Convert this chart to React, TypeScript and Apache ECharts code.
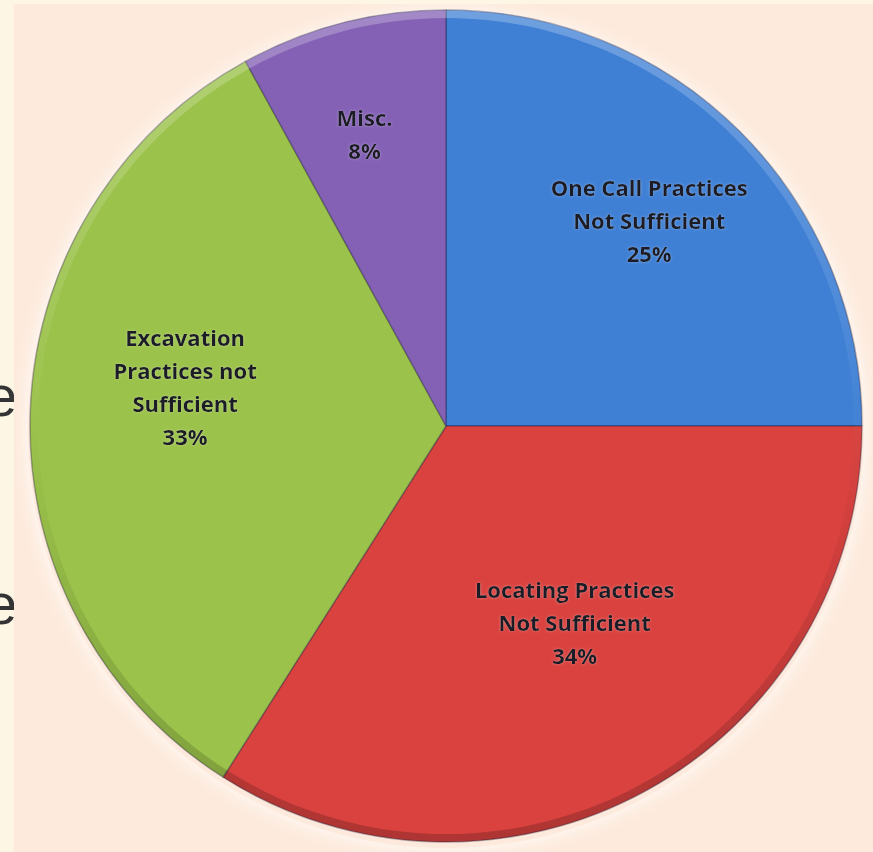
import React, { useEffect, useRef } from "react";
import * as echarts from "echarts";

const categories = [
  "One Call Practices\nNot Sufficient",
  "Locating Practices\nNot Sufficient",
  "Excavation\nPractices not\nSufficient",
  "Misc.",
];
const values = [25, 34, 33, 8];
const sliceColors = ["#3f80d5", "#d9423f", "#9bc24a", "#8461b5"];
const labelOffsets = [
  [54, -57],
  [27, 11],
  [-50, -33],
  [-29, -88],
];

const W = 873;
const H = 852;
const CX = 446;
const CY = 426;
const R = 416;

export default function App() {
  const ref = useRef<HTMLDivElement>(null);
  useEffect(() => {
    if (!ref.current) return;
    const chart = echarts.init(ref.current, null, { renderer: "svg" });
    const data = categories.map((name, i) => ({
      name,
      value: values[i],
      itemStyle: { color: sliceColors[i] },
    }));
    chart.setOption({
      animation: false,
      backgroundColor: "#fef6e4",
      graphic: [
        {
          type: "text",
          z: 0,
          style: {
            text: "e",
            x: 1,
            y: 424,
            font: "58px 'Liberation Sans'",
            fill: "#333333",
            textAlign: "center",
            textVerticalAlign: "bottom",
          },
        },
        {
          type: "text",
          z: 0,
          style: {
            text: "e",
            x: 1,
            y: 632,
            font: "58px 'Liberation Sans'",
            fill: "#333333",
            textAlign: "center",
            textVerticalAlign: "bottom",
          },
        },
        {
          type: "rect",
          z: 1,
          shape: { x: 14, y: 4, width: W - 14, height: H - 4 },
          style: { fill: "#fdeadc" },
        },
        {
          type: "circle",
          z: 2,
          shape: { cx: CX, cy: CY + 4, r: R + 2 },
          style: {
            fill: "#fdeadc",
            shadowBlur: 18,
            shadowColor: "rgba(255,255,255,0.9)",
          },
        },
        {
          type: "ring",
          z: 100,
          silent: true,
          shape: { cx: CX, cy: CY, r: R, r0: R - 8 },
          style: {
            fill: new echarts.graphic.LinearGradient(
              0,
              0,
              0,
              1,
              [
                { offset: 0, color: "rgba(255,255,255,0.25)" },
                { offset: 0.45, color: "rgba(255,255,255,0.04)" },
                { offset: 0.6, color: "rgba(0,0,0,0.03)" },
                { offset: 1, color: "rgba(0,0,0,0.2)" },
              ]
            ),
          },
        },
      ],
      series: [
        {
          type: "pie",
          z: 3,
          center: [CX, CY],
          radius: [0, R],
          startAngle: 90,
          clockwise: true,
          avoidLabelOverlap: false,
          itemStyle: {
            borderColor: "rgba(30,30,60,0.35)",
            borderWidth: 1.5,
          },
          label: {
            show: true,
            position: "inside",
            formatter: "{b}\n{d}%",
            color: "#1a1a28",
            fontFamily: "'Open Sans'",
            fontWeight: "bold",
            fontSize: 22,
            lineHeight: 33,
            align: "center",
            textShadowColor: "rgba(255,255,255,0.3)",
            textShadowBlur: 3,
          },
          labelLine: { show: false },
          labelLayout: (params: any) => {
            const o = labelOffsets[params.dataIndex] || [0, 0];
            return { dx: o[0], dy: o[1] };
          },
          emphasis: { disabled: true },
          data,
        },
      ],
    });
    return () => chart.dispose();
  }, []);
  return (
    <div
      ref={ref}
      style={{ position: "absolute", left: 0, top: 0, width: W, height: H }}
    />
  );
}
